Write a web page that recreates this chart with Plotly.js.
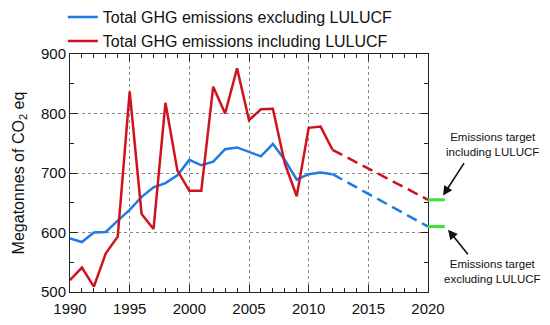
<!DOCTYPE html>
<html>
<head>
<meta charset="utf-8">
<script src="https://cdn.plot.ly/plotly-3.0.1.min.js"></script>
<style>html,body{margin:0;padding:0;background:#fff;}#chart{width:550px;height:325px;}</style>
</head>
<body>
<div id="chart"></div>
<script>
const years = [1990,1991,1992,1993,1994,1995,1996,1997,1998,1999,2000,2001,2002,2003,2004,2005,2006,2007,2008,2009,2010,2011,2012];
const exclLULUCF = [590,584,600,601,620,638,660,676,683,696,722,713,719,740,743,736,728,749,722,689,698,701,698];
const inclLULUCF = [520,541,509,565,593,837,631,606,818,704,670,670,845,800,876,789,807,808,716,661,776,778,739];
const projYears = [2012, 2020];
const projExcl = [698, 610];
const projIncl = [739, 655];
const targetIncl = 655;
const targetExcl = 610;
const seriesNames = ['Total GHG emissions excluding LULUCF', 'Total GHG emissions including LULUCF'];
const targetLabels = ['Emissions target<br>including LULUCF', 'Emissions target<br>excluding LULUCF'];

const blue = 'rgb(30,122,228)';
const red = 'rgb(208,18,30)';
const green = 'rgb(60,225,50)';
const font = 'Liberation Sans, Arial, sans-serif';

const traces = [
  {x: years, y: exclLULUCF, type: 'scatter', mode: 'lines', name: seriesNames[0], line: {color: blue, width: 2.5}},
  {x: years, y: inclLULUCF, type: 'scatter', mode: 'lines', name: seriesNames[1], line: {color: red, width: 2.5}},
  {x: projYears, y: projExcl, type: 'scatter', mode: 'lines', showlegend: false, line: {color: blue, width: 2.5, dash: '11px,6px'}},
  {x: projYears, y: projIncl, type: 'scatter', mode: 'lines', showlegend: false, line: {color: red, width: 2.5, dash: '11px,6px'}}
];

const axisCommon = {
  showline: true, linecolor: '#222', linewidth: 1, mirror: 'ticks',
  ticks: 'inside', ticklen: 7, tickcolor: '#222', tickwidth: 1,
  showgrid: true, gridcolor: '#888', griddash: 'dot', gridwidth: 1,
  zeroline: false, automargin: false,
  tickfont: {family: font, size: 15, color: '#111'}
};

const layout = {
  width: 550, height: 325,
  margin: {l: 70, r: 122, t: 54, b: 33, autoexpand: false},
  paper_bgcolor: '#fff', plot_bgcolor: '#fff',
  font: {family: font, color: '#111'},
  showlegend: true,
  legend: {x: -0.02, y: 1.226, xanchor: 'left', yanchor: 'top', font: {family: font, size: 16, color: '#111'}, bgcolor: 'rgba(0,0,0,0)', itemwidth: 30, tracegroupgap: 0},
  xaxis: Object.assign({}, axisCommon, {range: [1990, 2020], dtick: 5, tick0: 1990, ticklabelstandoff: 3,
    minor: {ticks: 'inside', dtick: 1, ticklen: 4, tickcolor: '#222', showgrid: false}}),
  yaxis: Object.assign({}, axisCommon, {range: [500, 900], dtick: 100, tick0: 500,
    minor: {ticks: 'inside', dtick: 50, ticklen: 4, tickcolor: '#222', showgrid: false},
    title: {text: 'Megatonnes of CO<sub>2</sub> eq', font: {family: font, size: 16, color: '#111'}, standoff: 12}}),
  shapes: [
    {type: 'line', xref: 'paper', yref: 'y', x0: 1, x1: 1.047, y0: targetIncl, y1: targetIncl, line: {color: green, width: 3}},
    {type: 'line', xref: 'paper', yref: 'y', x0: 1, x1: 1.047, y0: targetExcl, y1: targetExcl, line: {color: green, width: 3}}
  ],
  annotations: [
    {xref: 'paper', yref: 'paper', x: 1.042, y: 0.405, ax: 22, ay: -34, text: '', showarrow: true, arrowhead: 2, arrowsize: 1.2, arrowwidth: 1.6, arrowcolor: '#111'},
    {xref: 'paper', yref: 'paper', x: 1.056, y: 0.262, ax: 21, ay: 26, text: '', showarrow: true, arrowhead: 2, arrowsize: 1.2, arrowwidth: 1.6, arrowcolor: '#111'},
    {xref: 'paper', yref: 'paper', x: 1.179, y: 0.62, text: targetLabels[0], showarrow: false, xanchor: 'center', yanchor: 'middle', font: {family: font, size: 11.5, color: '#111'}},
    {xref: 'paper', yref: 'paper', x: 1.179, y: 0.088, text: targetLabels[1], showarrow: false, xanchor: 'center', yanchor: 'middle', font: {family: font, size: 11.5, color: '#111'}}
  ]
};

Plotly.newPlot('chart', traces, layout, {displayModeBar: false, staticPlot: true});
</script>
</body>
</html>
